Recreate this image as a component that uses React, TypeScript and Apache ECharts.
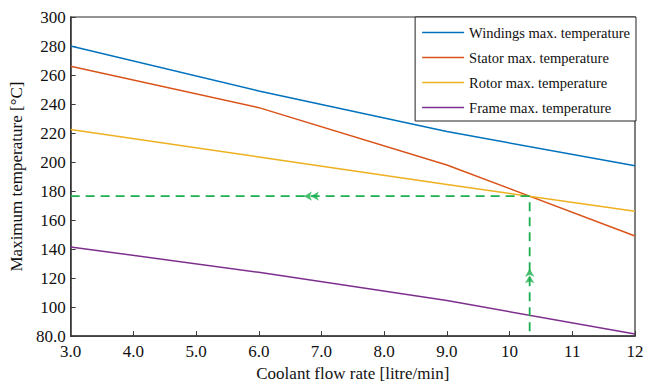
import React, { useEffect, useRef } from "react";
import * as echarts from "echarts";

const flowRates = [3, 6, 9, 12];
const windings = [280, 249, 221, 197.5];
const stator = [266, 237.5, 198, 149];
const rotor = [222.5, 203.5, 184.5, 166];
const frame = [141.5, 124, 104.5, 81.5];

const opX = 10.32;
const opY = 176.5;
const guidePath = [[3, opY], [opX, opY], [opX, 80]];
const arrowsLeft = [[6.72, opY], [6.83, opY]];
const arrowsUp = [[opX, 122], [opX, 126.5]];

const names = [
  "Windings max. temperature",
  "Stator max. temperature",
  "Rotor max. temperature",
  "Frame max. temperature",
];
const colors = ["#0072BD", "#D95319", "#EDB120", "#7E2F8E"];
const green = "#1BAF4F";
const font = "Liberation Serif";

export default function App() {
  const ref = useRef<HTMLDivElement>(null);
  useEffect(() => {
    const chart = echarts.init(ref.current!, undefined, { renderer: "svg" });
    const datasets = [windings, stator, rotor, frame];
    chart.setOption({
      animation: false,
      textStyle: { fontFamily: font },
      grid: {
        left: 67,
        right: 21,
        top: 17,
        bottom: 45,
        show: true,
        borderColor: "#2a2a2a",
        borderWidth: 1.2,
        backgroundColor: "#fff",
      },
      legend: {
        data: names.map((n) => ({ name: n, icon: "rect" })),
        orient: "vertical",
        right: 20,
        top: 17,
        padding: [7, 6, 5, 7],
        itemGap: 8,
        itemWidth: 42,
        itemHeight: 1.6,
        backgroundColor: "#fff",
        borderColor: "#222",
        borderWidth: 1,
        borderRadius: 0,
        textStyle: { fontFamily: font, fontSize: 14.5, color: "#111", lineHeight: 17 },
      },
      xAxis: {
        type: "value",
        min: 3,
        max: 12,
        interval: 1,
        name: "Coolant flow rate [litre/min]",
        nameLocation: "middle",
        nameGap: 26,
        nameTextStyle: { fontFamily: font, fontSize: 17, color: "#111" },
        axisLine: { show: true, lineStyle: { color: "#3a3a3a", width: 1.5 } },
        axisTick: { show: true, inside: true, length: 5, lineStyle: { color: "#3a3a3a" } },
        splitLine: { show: false },
        axisLabel: {
          fontFamily: font,
          fontSize: 17,
          color: "#111",
          margin: 7,
          formatter: (v: number) => (v < 10 ? v.toFixed(1) : String(v)),
        },
      },
      yAxis: {
        type: "value",
        min: 80,
        max: 300,
        interval: 20,
        name: "Maximum temperature [°C]",
        nameLocation: "middle",
        nameGap: 34,
        nameTextStyle: { fontFamily: font, fontSize: 17, color: "#111" },
        axisLine: { show: true, lineStyle: { color: "#3a3a3a", width: 1.5 } },
        axisTick: { show: true, inside: true, length: 5, lineStyle: { color: "#3a3a3a" } },
        splitLine: { show: false },
        axisLabel: {
          fontFamily: font,
          fontSize: 17,
          color: "#111",
          margin: 5,
          formatter: (v: number) => (v === 80 ? "80.0" : String(v)),
        },
      },
      series: [
        ...names.map((n, i) => ({
          name: n,
          type: "line",
          symbol: "none",
          data: flowRates.map((x, j) => [x, datasets[i][j]]),
          lineStyle: { color: colors[i], width: 1.5 },
          itemStyle: { color: colors[i] },
          z: 3,
        })),
        {
          name: "guide",
          type: "line",
          symbol: "none",
          data: guidePath,
          lineStyle: { color: green, width: 1.8, type: [9, 6] },
          z: 4,
        },
        {
          name: "arrowsLeft",
          type: "scatter",
          symbol: "arrow",
          symbolSize: [7, 8],
          symbolRotate: 90,
          data: arrowsLeft,
          itemStyle: { color: green },
          z: 5,
        },
        {
          name: "arrowsUp",
          type: "scatter",
          symbol: "arrow",
          symbolSize: [7, 8],
          symbolRotate: 0,
          data: arrowsUp,
          itemStyle: { color: green },
          z: 5,
        },
      ],
    });
    return () => chart.dispose();
  }, []);
  return (
    <div
      ref={ref}
      style={{ position: "absolute", left: 0, top: 0, width: 656, height: 387 }}
    />
  );
}
